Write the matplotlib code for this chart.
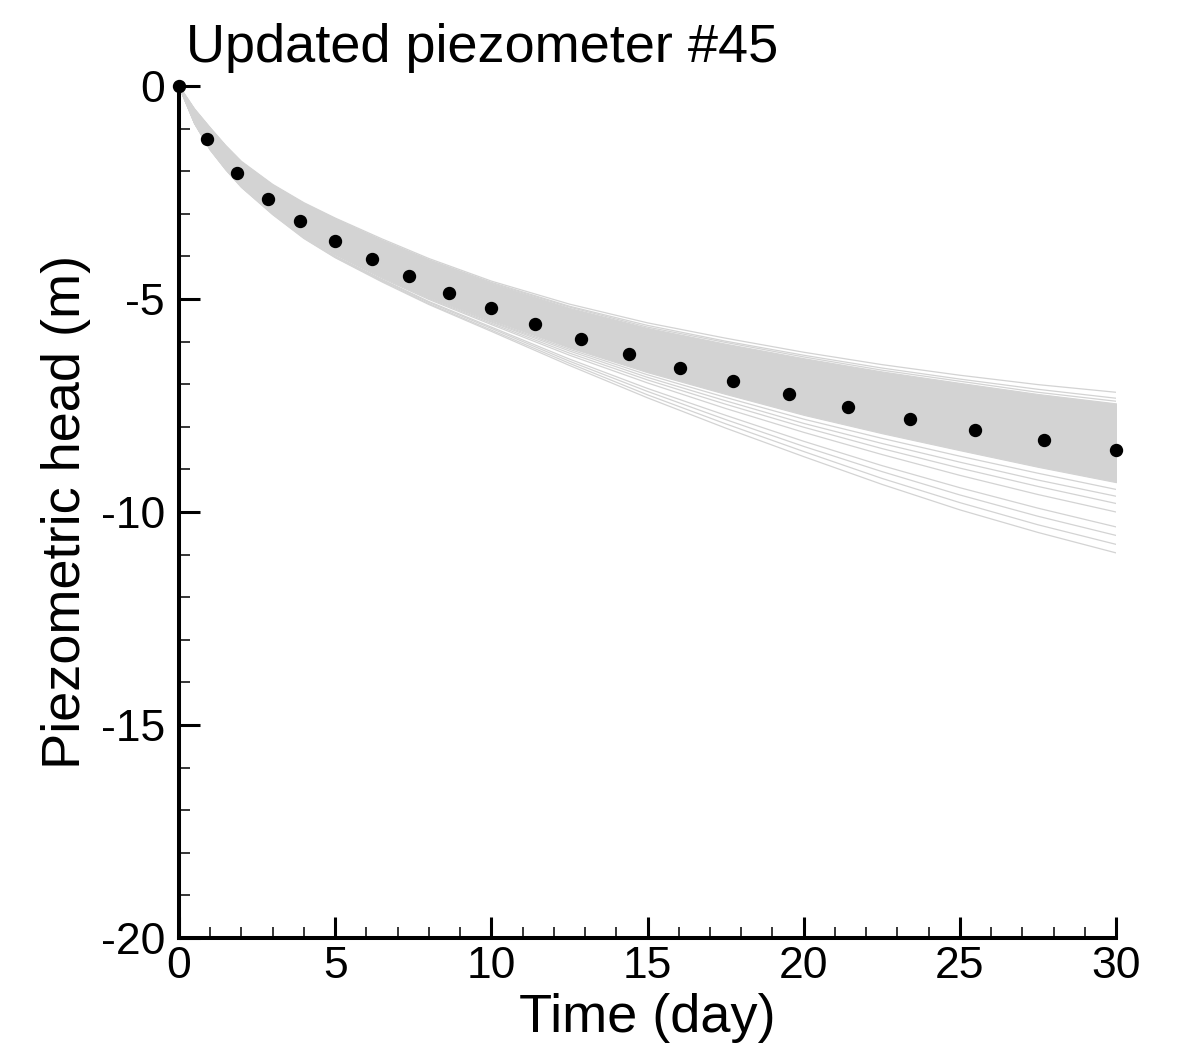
import matplotlib
matplotlib.use('Agg')
import matplotlib.pyplot as plt
from matplotlib.ticker import MultipleLocator

plt.rcParams['font.family'] = ['Liberation Sans', 'DejaVu Sans']
plt.rcParams['axes.unicode_minus'] = False

# observed heads at piezometer #45
obs_t = [0, 0.9, 1.86, 2.86, 3.88, 5.0, 6.17, 7.37, 8.66, 10.0, 11.4,
         12.88, 14.42, 16.04, 17.75, 19.53, 21.41, 23.39, 25.49, 27.68, 30.0]
obs_h = [0, -1.24, -2.05, -2.66, -3.18, -3.64, -4.06, -4.47, -4.85, -5.22, -5.59,
         -5.95, -6.28, -6.61, -6.92, -7.24, -7.53, -7.81, -8.07, -8.32, -8.54]

# ensemble output times
ens_t = [0, 0.5, 1, 1.5, 2, 3, 4, 5, 6.5, 8, 10, 12.5, 15, 17.5, 20, 22.5, 25, 27.5, 30]

# dense part of the updated ensemble
core_top = [0, -0.56, -1.0, -1.42, -1.80, -2.34, -2.78, -3.14, -3.64, -4.10,
            -4.64, -5.21, -5.68, -6.05, -6.39, -6.70, -6.97, -7.23, -7.45]
core_bot = [0, -0.86, -1.46, -1.92, -2.32, -2.94, -3.48, -3.91, -4.44, -4.93,
            -5.49, -6.14, -6.72, -7.23, -7.72, -8.15, -8.55, -8.94, -9.30]

# realizations that stand out from the dense part
members = [
    [0, -0.54, -0.98, -1.40, -1.77, -2.31, -2.74, -3.10, -3.59, -4.05,
     -4.58, -5.12, -5.56, -5.92, -6.25, -6.54, -6.79, -7.01, -7.19],
    [0, -0.55, -0.99, -1.41, -1.79, -2.33, -2.76, -3.12, -3.62, -4.08,
     -4.61, -5.17, -5.62, -5.99, -6.32, -6.62, -6.88, -7.12, -7.33],
    [0, -0.56, -1.00, -1.42, -1.79, -2.33, -2.77, -3.13, -3.63, -4.09,
     -4.63, -5.19, -5.66, -6.02, -6.36, -6.67, -6.93, -7.19, -7.40],
    [0, -0.86, -1.46, -1.92, -2.33, -2.95, -3.49, -3.92, -4.46, -4.95,
     -5.52, -6.18, -6.78, -7.31, -7.82, -8.27, -8.69, -9.09, -9.47],
    [0, -0.86, -1.47, -1.93, -2.33, -2.96, -3.50, -3.93, -4.47, -4.97,
     -5.54, -6.22, -6.84, -7.39, -7.92, -8.39, -8.83, -9.25, -9.63],
    [0, -0.87, -1.47, -1.94, -2.34, -2.96, -3.51, -3.95, -4.49, -4.99,
     -5.57, -6.27, -6.90, -7.47, -8.01, -8.51, -8.97, -9.40, -9.80],
    [0, -0.87, -1.48, -1.94, -2.35, -2.97, -3.52, -3.96, -4.51, -5.01,
     -5.60, -6.32, -6.97, -7.57, -8.13, -8.65, -9.14, -9.59, -10.00],
    [0, -0.87, -1.49, -1.95, -2.36, -2.99, -3.54, -3.99, -4.54, -5.06,
     -5.66, -6.41, -7.10, -7.73, -8.34, -8.91, -9.43, -9.91, -10.35],
    [0, -0.88, -1.49, -1.96, -2.37, -3.00, -3.56, -4.00, -4.56, -5.08,
     -5.69, -6.46, -7.17, -7.83, -8.46, -9.05, -9.60, -10.10, -10.55],
    [0, -0.88, -1.50, -1.96, -2.37, -3.01, -3.57, -4.02, -4.58, -5.11,
     -5.73, -6.51, -7.25, -7.93, -8.58, -9.21, -9.78, -10.30, -10.76],
    [0, -0.88, -1.50, -1.97, -2.38, -3.02, -3.58, -4.03, -4.60, -5.13,
     -5.76, -6.56, -7.32, -8.03, -8.70, -9.35, -9.95, -10.48, -10.96],
]

fig = plt.figure(figsize=(11.83, 10.51), dpi=100)
ax = fig.add_axes([0.1513, 0.1075, 0.7921, 0.8107])

ens_color = '#d3d3d3'
ax.fill_between(ens_t, core_top, core_bot, color=ens_color, lw=0.8)
for m in members:
    ax.plot(ens_t, m, color=ens_color, lw=0.9)

ax.plot(obs_t, obs_h, 'o', color='black', markersize=8.6, clip_on=False, zorder=5)

ax.set_xlim(0, 30)
ax.set_ylim(-20, 0)
ax.xaxis.set_major_locator(MultipleLocator(5))
ax.xaxis.set_minor_locator(MultipleLocator(1))
ax.yaxis.set_major_locator(MultipleLocator(5))
ax.yaxis.set_minor_locator(MultipleLocator(1))

for side in ['top', 'right']:
    ax.spines[side].set_visible(False)
for side in ['left', 'bottom']:
    ax.spines[side].set_linewidth(2.9)

ax.tick_params(which='major', direction='in', length=15, width=2.2, labelsize=32)
ax.tick_params(which='minor', direction='in', length=8, width=1.1)
ax.tick_params(axis='x', which='major', pad=6)
ax.tick_params(axis='y', which='major', pad=10)

fig.text(186 / 1183, 1 - 62 / 1051, 'Updated piezometer #45', fontsize=39,
         ha='left', va='baseline')
fig.text(0.547, 0.018, 'Time (day)', fontsize=39, ha='center', va='baseline')
fig.text(0.0558, 0.5128, 'Piezometric head (m)', fontsize=39, rotation=90,
         ha='center', va='center')

fig.savefig('out.png', dpi=100)
